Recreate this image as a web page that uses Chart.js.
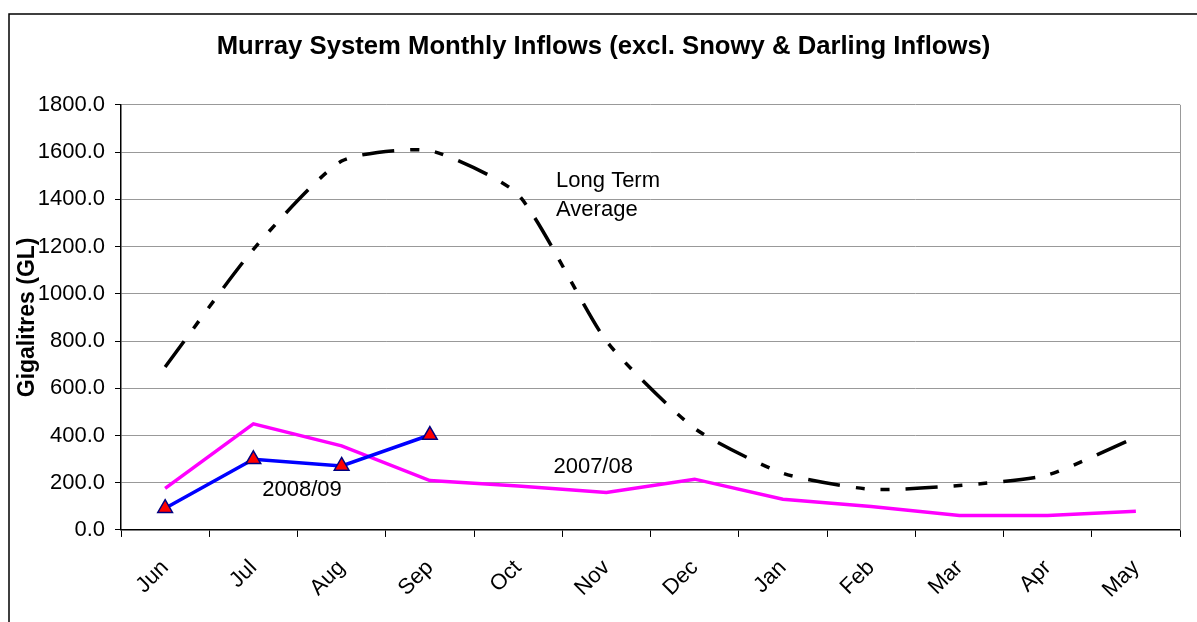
<!DOCTYPE html>
<html>
<head>
<meta charset="utf-8">
<script src="https://cdn.jsdelivr.net/npm/chart.js@4"></script>
<style>
  body { margin: 0; background: #fff; }
  #wrap { width: 1197px; height: 622px; }
</style>
</head>
<body>
<div id="wrap"><canvas id="inflowChart" width="1197" height="622"></canvas></div>
<script>
var months = ["Jun", "Jul", "Aug", "Sep", "Oct", "Nov", "Dec", "Jan", "Feb", "Mar", "Apr", "May"];
var longTermAvg = [690, 1188, 1562, 1606, 1420, 800, 430, 240, 172, 188, 233, 392];
var inflow0708 = [176, 449, 356, 209, 186, 159, 215, 130, 99, 61, 61, 79];
var inflow0809 = [92, 299, 271, 402];
var yMin = 0, yMax = 1800, yStep = 200;

// in-chart labels, placed in data space (category index, value)
var noteTexts = ["Long Term", "Average", "2007/08", "2008/09"];
var noteX = [4.43, 4.43, 4.40, 1.10];
var noteY = [1478, 1355, 267, 169];

var FONT = "'Liberation Sans', Arial, sans-serif";

var framePlugin = {
    id: "frame",
    beforeDraw: function (chart) {
        var c = chart.ctx;
        c.save();
        c.strokeStyle = "#000";
        c.lineWidth = 1.5;
        c.beginPath();
        c.moveTo(9, 700);
        c.lineTo(9, 14);
        c.lineTo(1300, 14);
        c.stroke();
        c.restore();
    },
    afterDraw: function (chart) {
        var a = chart.chartArea, c = chart.ctx;
        c.save();
        c.strokeStyle = "#999";
        c.lineWidth = 1;
        c.beginPath();
        c.moveTo(Math.round(a.right) + 0.5, a.top);
        c.lineTo(Math.round(a.right) + 0.5, a.bottom);
        c.stroke();
        c.restore();
    }
};

var notesPlugin = {
    id: "notes",
    afterDatasetsDraw: function (chart) {
        var c = chart.ctx, xs = chart.scales.x, ys = chart.scales.y;
        c.save();
        c.fillStyle = "#000";
        c.font = "22px " + FONT;
        c.textAlign = "left";
        c.textBaseline = "middle";
        for (var i = 0; i < noteTexts.length; i++) {
            c.fillText(noteTexts[i], xs.getPixelForValue(noteX[i]), ys.getPixelForValue(noteY[i]));
        }
        c.restore();
    }
};

var ctx = document.getElementById("inflowChart").getContext("2d");

var inflowChart = new Chart(ctx, {
    type: "line",
    data: {
        labels: months,
        datasets: [{
            label: "2008/09",
            data: inflow0809,
            borderColor: "#0000FF",
            borderWidth: 3.5,
            pointStyle: "triangle",
            pointRadius: 8.5,
            pointBackgroundColor: "#FF0000",
            pointBorderColor: "#000080",
            pointBorderWidth: 1.5,
            tension: 0,
            order: 0
        }, {
            label: "2007/08",
            data: inflow0708,
            borderColor: "#FF00FF",
            borderWidth: 3.5,
            pointRadius: 0,
            tension: 0,
            order: 1
        }, {
            label: "Long Term Average",
            data: longTermAvg,
            borderColor: "#000",
            borderWidth: 3.5,
            borderDash: [32, 16, 9, 16, 9, 16],
            borderCapStyle: "butt",
            pointRadius: 0,
            tension: 0.2,
            order: 2
        }]
    },
    options: {
        responsive: false,
        animation: false,
        layout: {
            padding: { left: 10, right: 0, top: 0, bottom: 1 }
        },
        plugins: {
            legend: { display: false },
            tooltip: { enabled: false },
            title: {
                display: true,
                text: "Murray System Monthly Inflows (excl. Snowy & Darling Inflows)",
                color: "#000",
                font: { size: 25.7, weight: "bold", family: FONT },
                padding: { top: 31, bottom: 43 }
            }
        },
        scales: {
            x: {
                offset: true,
                grid: {
                    display: true,
                    drawOnChartArea: false,
                    offset: true,
                    tickLength: 7,
                    tickColor: "#000"
                },
                border: { color: "#000", width: 1.5 },
                ticks: {
                    color: "#000",
                    font: { size: 22, family: FONT },
                    minRotation: 45,
                    maxRotation: 45,
                    padding: 18
                }
            },
            y: {
                min: yMin,
                max: yMax,
                afterFit: function (scale) { scale.width = 111; },
                grid: {
                    color: "#999",
                    tickColor: "#000",
                    tickLength: 6
                },
                border: { color: "#000", width: 1.5 },
                ticks: {
                    stepSize: yStep,
                    color: "#000",
                    padding: 10,
                    font: { size: 22, family: FONT },
                    callback: function (value) {
                        return value.toFixed(1);
                    }
                },
                title: {
                    display: true,
                    text: "Gigalitres (GL)",
                    color: "#000",
                    font: { size: 23, weight: "bold", family: FONT },
                    padding: { top: 4, bottom: 4 }
                }
            },
            // empty right-hand axis, only reserves the margin right of the plot
            spacer: {
                position: "right",
                display: true,
                grid: { display: false },
                border: { display: false },
                ticks: { display: false },
                afterFit: function (scale) { scale.width = 17; }
            }
        }
    },
    plugins: [framePlugin, notesPlugin]
});
</script>
</body>
</html>
